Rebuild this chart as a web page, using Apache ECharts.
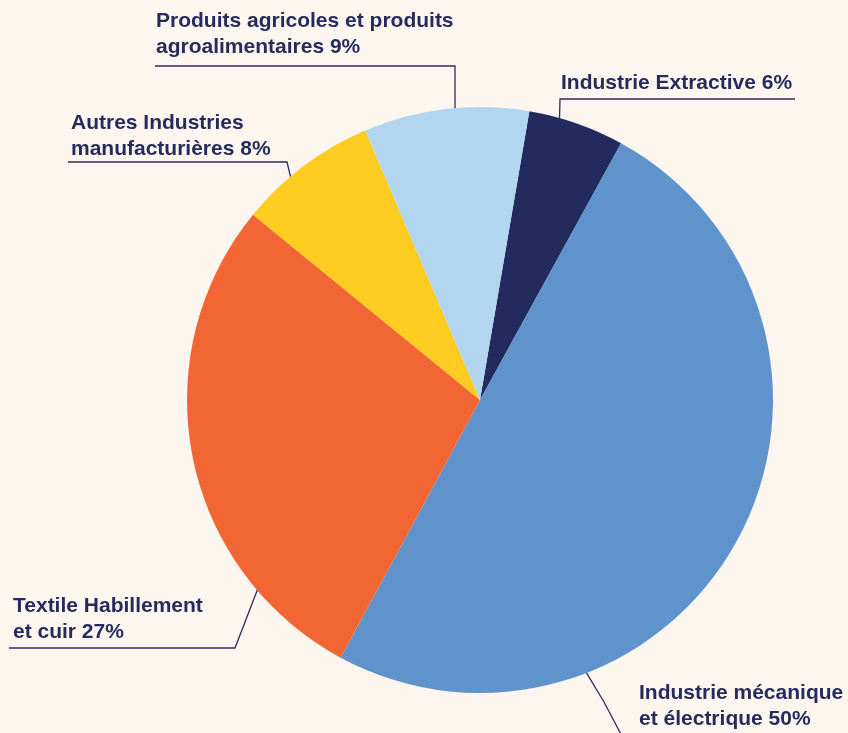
<!DOCTYPE html>
<html>
<head>
<meta charset="utf-8">
<script src="https://cdn.jsdelivr.net/npm/echarts@6/dist/echarts.min.js"></script>
<style>
html,body{margin:0;padding:0;background:#fdf6ef;}
#chart{width:848px;height:733px;}
</style>
</head>
<body>
<div id="chart"></div>
<script>
// Data (clockwise from top)
const categories = [
  'Industrie Extractive 6%',
  'Industrie mécanique\net électrique 50%',
  'Textile Habillement\net cuir 27%',
  'Autres Industries\nmanufacturières 8%',
  'Produits agricoles et produits\nagroalimentaires 9%'
];
const values = [5.3, 49.9, 28.0, 7.7, 9.1];
const colors = ['#232a5e', '#6093cc', '#f26633', '#ffcc22', '#b2d6ef'];

// Label placement (layout only): text top-left, leader anchor angle (deg clockwise from top), corner, end
const labelLayoutCfg = [
  { x: 561, y: 70,  anchor: 15.8,  corner: [560, 99],  end: [795, 99] },
  { x: 639, y: 680, anchor: 158.7, corner: [604, 702], end: [624, 740] },
  { x: 13,  y: 593, anchor: 229.6, corner: [235, 648], end: [9, 648] },
  { x: 71,  y: 110, anchor: -40.4, corner: [287, 162], end: [68, 162] },
  { x: 156, y: 8,   anchor: -4.9,  corner: [455, 66],  end: [155, 66] }
];
const center = [480, 400];
const radius = 293;

const chart = echarts.init(document.getElementById('chart'));
chart.setOption({
  backgroundColor: '#fdf6ef',
  animation: false,
  series: [{
    type: 'pie',
    center: center,
    radius: radius,
    startAngle: 80.3,
    clockwise: true,
    avoidLabelOverlap: false,
    data: categories.map((c, i) => ({ name: c, value: values[i], itemStyle: { color: colors[i] } })),
    label: {
      show: true,
      position: 'outside',
      formatter: '{b}',
      fontFamily: 'Liberation Sans, Arial, sans-serif',
      fontWeight: 'bold',
      fontSize: 21,
      lineHeight: 26,
      color: '#262b5e'
    },
    labelLine: {
      show: true,
      lineStyle: { color: '#2b2e5e', width: 1.3 }
    },
    labelLayout: function (params) {
      const cfg = labelLayoutCfg[params.dataIndex];
      const a = cfg.anchor * Math.PI / 180;
      const start = [center[0] + (radius - 1) * Math.sin(a), center[1] - (radius - 1) * Math.cos(a)];
      return {
        x: cfg.x,
        y: cfg.y,
        align: 'left',
        verticalAlign: 'top',
        labelLinePoints: [start, cfg.corner, cfg.end]
      };
    }
  }]
});
</script>
</body>
</html>
